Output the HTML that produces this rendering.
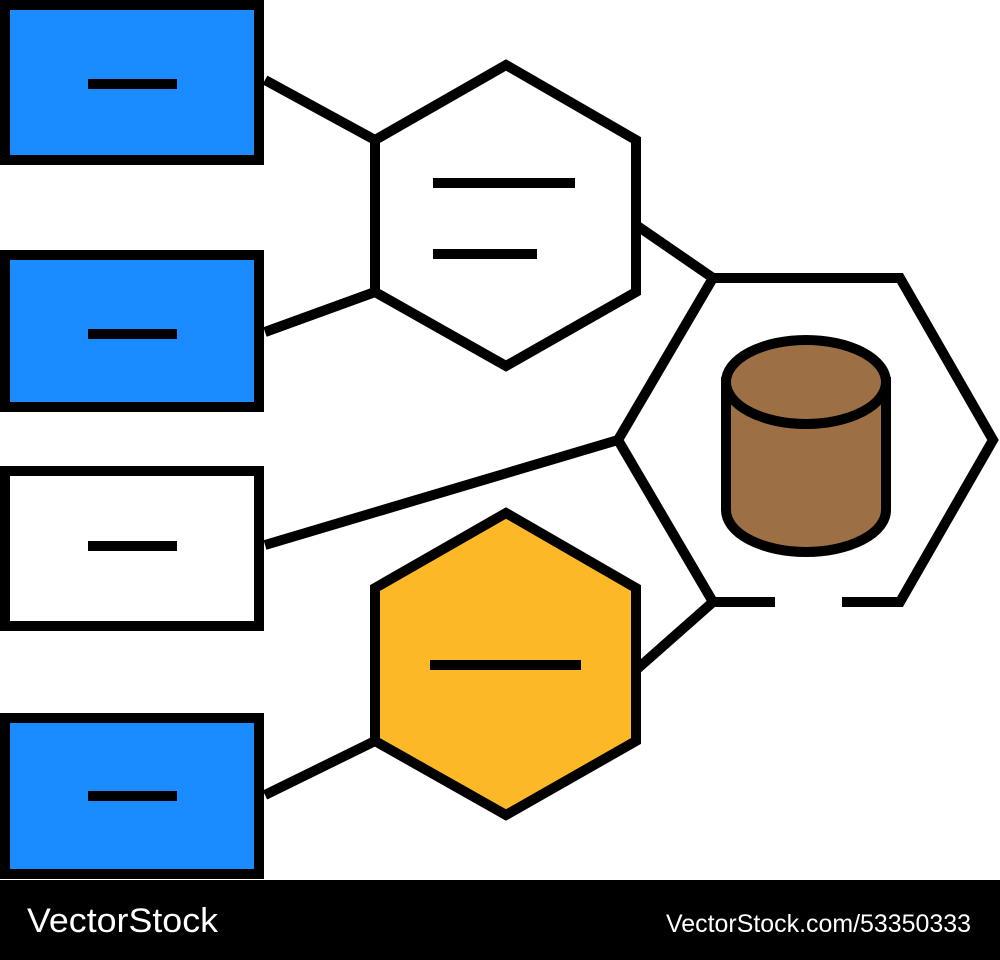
<!DOCTYPE html>
<html><head><style>html,body{margin:0;padding:0;background:#fff}svg{display:block}</style></head>
<body>
<svg width="1000" height="960" viewBox="0 0 1000 960" xmlns="http://www.w3.org/2000/svg">
<g stroke="#000" stroke-width="10" fill="none" stroke-linejoin="miter">
<line x1="265" y1="80" x2="375" y2="140"/>
<line x1="265" y1="332" x2="375" y2="292"/>
<line x1="265" y1="545" x2="618" y2="440"/>
<line x1="265" y1="795" x2="375" y2="741"/>
<line x1="636" y1="225" x2="713" y2="278"/>
<line x1="636" y1="670" x2="713" y2="602"/>
<rect x="5" y="5" width="254" height="155" fill="#1a8cff"/>
<rect x="5" y="255" width="254" height="152" fill="#1a8cff"/>
<rect x="5" y="471" width="254" height="155" fill="#fff"/>
<rect x="5" y="718" width="254" height="156" fill="#1a8cff"/>
<polygon points="506,65 636,140 636,292 506,366 375,292 375,140" fill="#fff"/>
<polygon points="506,513 636,588 636,741 506,815 375,741 375,588" fill="#fdb827"/>
<polyline points="775,602 713,602 618,440 713,278 900,278 993,440 900,602 842,602"/>
<path d="M726,382 L726,510 A80,42 0 0 0 886,510 L886,382 Z" fill="#9c6f44"/>
<ellipse cx="806" cy="382" rx="80" ry="42" fill="#9c6f44"/>
<line x1="88" y1="84" x2="177" y2="84"/>
<line x1="88" y1="334" x2="177" y2="334"/>
<line x1="88" y1="546" x2="177" y2="546"/>
<line x1="88" y1="796" x2="177" y2="796"/>
<line x1="433" y1="183" x2="575" y2="183"/>
<line x1="433" y1="254" x2="537" y2="254"/>
<line x1="430" y1="665" x2="581" y2="665"/>
</g>
<rect x="0" y="880" width="1000" height="80" fill="#000"/>
<text x="27" y="932" fill="#fff" font-family="Liberation Sans, sans-serif" font-size="34" textLength="191" lengthAdjust="spacingAndGlyphs">VectorStock</text>
<text x="666" y="932" fill="#fff" font-family="Liberation Sans, sans-serif" font-size="25" textLength="305" lengthAdjust="spacingAndGlyphs">VectorStock.com/53350333</text>
</svg>
</body></html>
